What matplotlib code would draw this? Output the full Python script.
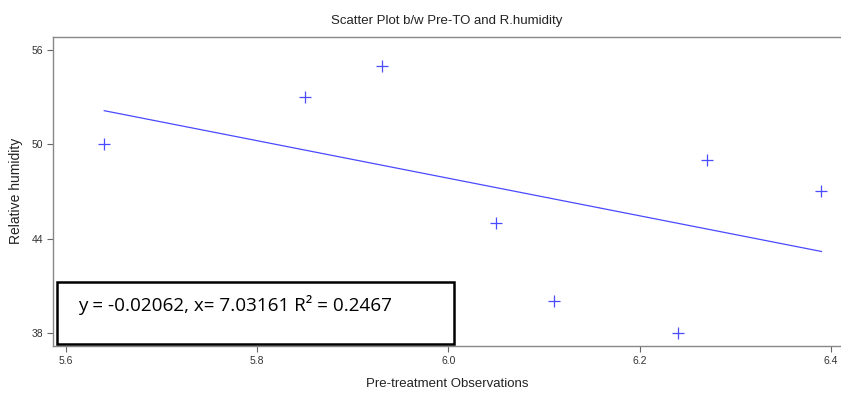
import numpy as np
import matplotlib.pyplot as plt
from matplotlib.patches import Rectangle

# datos
pre_to = [5.64, 5.85, 5.93, 6.05, 6.11, 6.24, 6.27, 6.39]
humedad = [50, 53, 55, 45, 40, 38, 49, 47]

x_ticks = [5.6, 5.8, 6.0, 6.2, 6.4]
y_ticks = [38, 44, 50, 56]

plt.rcParams['font.family'] = ['Liberation Sans', 'DejaVu Sans']

fig = plt.figure(figsize=(8.41, 3.95), dpi=100)
ax = fig.add_axes([53.3 / 841, 1 - 346 / 395, 1 - 53.3 / 841, 309.5 / 395])

ax.plot(pre_to, humedad, linestyle='none', marker='+', markersize=9,
        markeredgewidth=0.9, color='#4a4aff')

# recta de regresion
pend, orig = np.polyfit(pre_to, humedad, 1)
xr = np.array([min(pre_to), max(pre_to)])
ax.plot(xr, pend * xr + orig, color='#4a4aff', linewidth=0.9)

ax.set_xlim(5.5867, 6.4105)
ax.set_ylim(37.15, 56.88)
ax.set_xticks(x_ticks)
ax.set_xticklabels([f'{v:.1f}' for v in x_ticks])
ax.set_yticks(y_ticks)

ax.spines['right'].set_visible(False)
for s in ['left', 'bottom', 'top']:
    ax.spines[s].set_color('#888888')
    ax.spines[s].set_linewidth(1.0)
ax.tick_params(direction='out', length=4, width=0.8, color='#666666',
               labelsize=7.5, labelcolor='#333333', pad=3)

ax.set_xlabel('Pre-treatment Observations', fontsize=9.5, color='#222222', labelpad=9)
ax.set_ylabel('Relative humidity', fontsize=10, color='#222222')
ax.yaxis.set_label_coords(-0.038, 0.5)
ax.set_title('Scatter Plot b/w Pre-TO and R.humidity', fontsize=9.5,
             color='#222222', pad=9)

# cuadro con la ecuacion
caja = Rectangle((57 / 841, 1 - 344 / 395), 397 / 841, 62 / 395,
                 transform=fig.transFigure, facecolor='white',
                 edgecolor='black', linewidth=1.8, zorder=5)
fig.patches.append(caja)
fig.text(78 / 841, 1 - 305 / 395, 'y = -0.02062, x= 7.03161 R² = 0.2467',
         fontsize=13.6, family=['Open Sans', 'DejaVu Sans'], va='center',
         color='black', zorder=6)

plt.savefig('out.png', dpi=100)
